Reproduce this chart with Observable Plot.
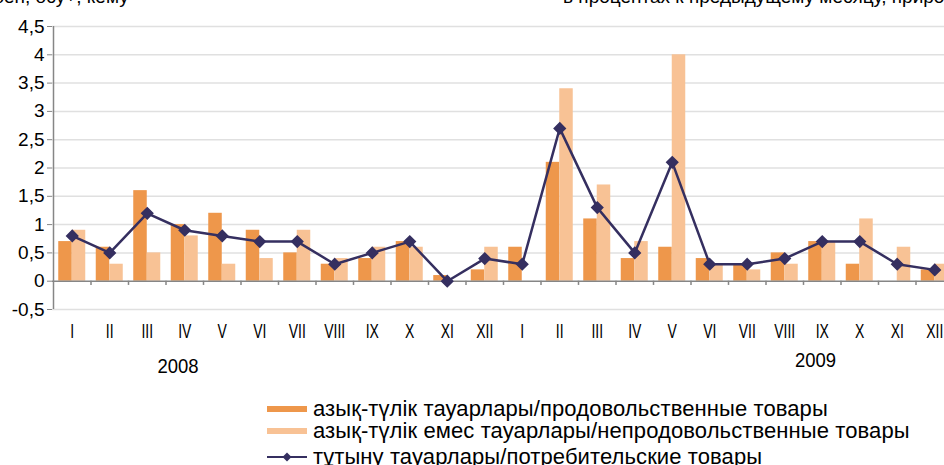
<!DOCTYPE html>
<html><head><meta charset="utf-8">
<script src="https://cdn.jsdelivr.net/npm/d3@7"></script>
<script src="https://cdn.jsdelivr.net/npm/@observablehq/plot@0.6"></script>
<style>
html,body{margin:0;padding:0;background:#fff;}
#wrap{position:relative;width:944px;height:465px;overflow:hidden;font-family:Arial,"Liberation Sans",sans-serif;color:#000;}
.top{position:absolute;font-size:19px;line-height:19px;white-space:nowrap;top:-13px;}
#chart{position:absolute;left:0;top:0;}
.leg{position:absolute;left:267px;font-size:22px;line-height:20px;height:20px;white-space:nowrap;display:flex;align-items:center;letter-spacing:0.1px;}
.leg svg{margin-right:6px;}
</style></head>
<body>
<div id="wrap">
  <div id="chart"></div>
  <div class="top" id="tl" style="right:809px;">алдыңғы айға пайызбен, өсу+, кему-</div>
  <div class="top" id="tr" style="left:563px;">в процентах к предыдущему месяцу, прирост+, снижение-</div>
  <div id="legend"></div>
</div>
<script>
const months = ["I","II","III","IV","V","VI","VII","VIII","IX","X","XI","XII",
                "I","II","III","IV","V","VI","VII","VIII","IX","X","XI","XII"];
const years = ["2008","2009"];
const food    = [0.7,0.6,1.6,1.0,1.2,0.9,0.5,0.3,0.4,0.7,0.1,0.2, 0.6,2.1,1.1,0.4,0.6,0.4,0.3,0.5,0.7,0.3,0.0,0.2];
const nonfood = [0.9,0.3,0.5,0.8,0.3,0.4,0.9,0.4,0.6,0.6,0.0,0.6, 0.0,3.4,1.7,0.7,4.0,0.3,0.2,0.3,0.7,1.1,0.6,0.3];
const cpi     = [0.8,0.5,1.2,0.9,0.8,0.7,0.7,0.3,0.5,0.7,0.0,0.4, 0.3,2.7,1.3,0.5,2.1,0.3,0.3,0.4,0.7,0.7,0.3,0.2];
const yTicks = [-0.5,0,0.5,1,1.5,2,2.5,3,3.5,4,4.5];
const seriesNames = [
  "азық-түлік тауарлары/продовольственные товары",
  "азық-түлік емес тауарлары/непродовольственные товары",
  "тұтыну тауарлары/потребительские товары"
];
const C_FOOD = "#EE974B", C_NON = "#F8C295", C_LINE = "#352F60";

const data = months.map((m, i) => ({i, m, food: food[i], nonfood: nonfood[i], cpi: cpi[i]}));
const bounds = d3.range(0, 24).map(i => i + 0.5);
const fmt = d => String(d).replace(".", ",");
const BW = 0.36;

const plot = Plot.plot({
  width: 944, height: 395,
  marginLeft: 52, marginRight: 0, marginTop: 26, marginBottom: 86,
  style: {fontFamily: "Arial, 'Liberation Sans', sans-serif", color: "#000", background: "transparent"},
  x: {type: "linear", domain: [-0.5, 23.5], range: [53, 953], axis: null},
  y: {domain: [-0.5, 4.5], range: [309, 26]},
  marks: [
    Plot.ruleY(yTicks.filter(d => d !== 0), {y: d => d, stroke: "#E0E0E0", strokeWidth: 1.5}),
    Plot.rect(data, {x1: d => d.i - BW, x2: d => d.i, y1: 0, y2: "food", fill: C_FOOD}),
    Plot.rect(data, {x1: d => d.i, x2: d => d.i + BW, y1: 0, y2: "nonfood", fill: C_NON}),
    Plot.ruleY([0], {stroke: "#868686", strokeWidth: 1.5}),
    Plot.ruleX(bounds, {x: d => d, y1: 0, y2: -0.075, stroke: "#868686", strokeWidth: 1.5}),
    Plot.ruleX([-0.5], {x: d => d, y1: -0.5, y2: 4.5, stroke: "#868686", strokeWidth: 1.5}),
    Plot.axisY({ticks: yTicks, tickFormat: fmt, tickSize: 5, tickPadding: 3, fontSize: 19, stroke: "#868686", fill: "#000"}),
    Plot.line(data, {x: "i", y: "cpi", stroke: C_LINE, strokeWidth: 2.5}),
    Plot.dot(data, {x: "i", y: "cpi", symbol: "diamond2", r: 5, fill: C_LINE, stroke: C_LINE}),
    Plot.text(data, {x: "i", y: -0.5, dy: 22, text: "m", fontSize: 20, fill: "#000", lineAnchor: "middle"}),
    Plot.text([years[0]], {x: [2.82], y: -0.5, dy: 57, text: d => d, fontSize: 21, fill: "#000", lineAnchor: "middle"}),
    Plot.text([years[1]], {x: [19.82], y: -0.5, dy: 51, text: d => d, fontSize: 21, fill: "#000", lineAnchor: "middle"})
  ]
});
// condense month / year labels horizontally (Arial Narrow look)
d3.select(plot).selectAll('g[aria-label="text"] text').each(function() {
  const t = this.getAttribute("transform") || "";
  const s = years.includes(this.textContent) ? 0.88 : 0.7;
  this.setAttribute("transform", t + ` scale(${s},1)`);
});
document.getElementById("chart").appendChild(plot);

// legend
const leg = document.getElementById("legend");
const rowsY = [409, 431, 457];
seriesNames.forEach((name, k) => {
  const row = document.createElement("div");
  row.className = "leg";
  row.style.top = (rowsY[k] - 10) + "px";
  let sw;
  if (k < 2) {
    sw = `<svg width="40" height="8"><rect x="0" y="1" width="40" height="6" fill="${k === 0 ? C_FOOD : C_NON}"/></svg>`;
  } else {
    sw = `<svg width="40" height="12"><line x1="0" y1="6" x2="40" y2="6" stroke="${C_LINE}" stroke-width="2"/><path d="M20 1.5 L24.5 6 L20 10.5 L15.5 6 Z" fill="${C_LINE}"/></svg>`;
  }
  row.innerHTML = sw + `<span>${name}</span>`;
  leg.appendChild(row);
});
</script>
</body></html>
